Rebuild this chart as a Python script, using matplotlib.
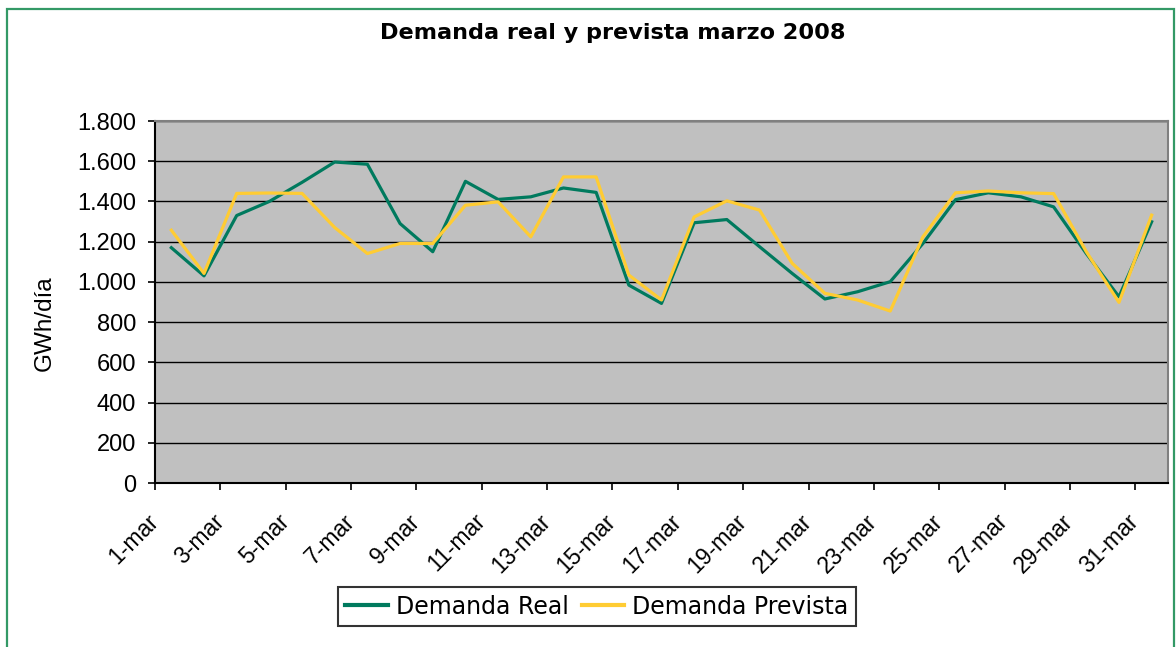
import numpy as np
import matplotlib
matplotlib.use("Agg")
import matplotlib.pyplot as plt
from matplotlib.patches import Rectangle

plt.rcParams['font.family'] = ['Liberation Sans', 'DejaVu Sans']

# valores (GWh/día), 1 a 31 de marzo
dias = list(range(1, 32))
demanda_real = [1170, 1030, 1330, 1400, 1495, 1596, 1585, 1290, 1150, 1500,
                1410, 1423, 1467, 1445, 984, 893, 1294, 1310, 1175, 1042,
                915, 951, 1001, 1191, 1409, 1443, 1423, 1373, 1141, 926, 1299]
demanda_prevista = [1257, 1042, 1440, 1442, 1440, 1270, 1141, 1191, 1191, 1381,
                    1398, 1224, 1522, 1522, 1034, 910, 1323, 1403, 1357, 1092,
                    943, 910, 855, 1224, 1443, 1452, 1443, 1439, 1150, 898, 1332]
etiquetas = [f"{d}-mar" for d in dias[::2]]
yticks = [0, 200, 400, 600, 800, 1000, 1200, 1400, 1600, 1800]
ytick_labels = ["0", "200", "400", "600", "800", "1.000", "1.200", "1.400", "1.600", "1.800"]

fig = plt.figure(figsize=(11.76, 6.47), dpi=100)
ax = fig.add_axes([155 / 1176, 1 - 483 / 647, 1013 / 1176, 362 / 647])
ax.set_facecolor('#C0C0C0')

x = np.arange(len(dias)) + 0.5
ax.plot(x, demanda_real, color='#007A5E', lw=2.3, label='Demanda Real', zorder=3)
ax.plot(x, demanda_prevista, color='#FFCC33', lw=2.3, label='Demanda Prevista', zorder=3)

ax.set_xlim(0, len(dias))
ax.set_ylim(0, 1800)
ax.set_yticks(yticks)
ax.set_yticklabels(ytick_labels, fontsize=17)
ax.set_xticks(np.arange(0, len(dias), 2))
ax.set_xticklabels(etiquetas, fontsize=16.5, rotation=45, ha='right', va='center',
                   rotation_mode='anchor')

ax.grid(axis='y', color='black', lw=1)
ax.set_axisbelow(True)
ax.tick_params(axis='both', direction='out', length=5, width=1.2, color='black')
ax.tick_params(axis='y', pad=8.5)
ax.tick_params(axis='x', pad=20)
for s in ['top', 'right']:
    ax.spines[s].set_color('#808080')
    ax.spines[s].set_linewidth(1.5)
for s in ['left', 'bottom']:
    ax.spines[s].set_color('black')
    ax.spines[s].set_linewidth(1.5)

ax.set_ylabel('GWh/día', fontsize=17.5)
ax.yaxis.set_label_coords((56 - 155) / 1013, (483 - 323) / 362)

fig.text(613 / 1176, 1 - 33 / 647, 'Demanda real y prevista marzo 2008',
         ha='center', va='center', fontsize=16.1, fontweight='bold',
         family='DejaVu Sans')

leg = fig.legend(loc='center', bbox_to_anchor=((336 + 858) / 2 / 1176, 1 - 606.5 / 647),
                 ncol=2, prop={'family': 'DejaVu Sans', 'size': 17}, frameon=True,
                 fancybox=False, handlelength=1.8, columnspacing=0.55,
                 handletextpad=0.34, borderpad=0.3, borderaxespad=0)
leg.get_frame().set_edgecolor('black')
leg.get_frame().set_linewidth(1.5)
for line in leg.get_lines():
    line.set_linewidth(3)

fig.patches.append(Rectangle((7 / 1176, -0.05), 1167 / 1176, 1.05 - 9 / 647,
                             transform=fig.transFigure, fill=False,
                             edgecolor='#339966', lw=1.6))

fig.savefig('out.png', dpi=100)
